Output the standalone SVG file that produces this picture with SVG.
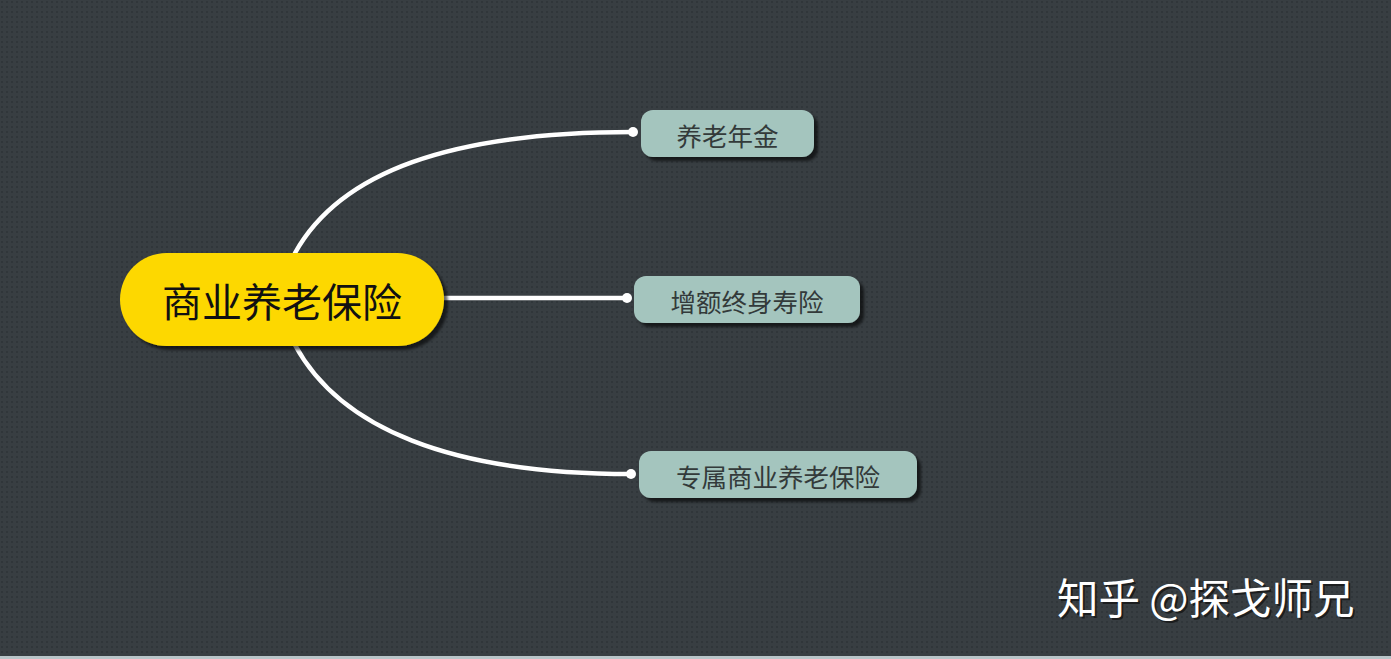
<svg xmlns="http://www.w3.org/2000/svg" width="1391" height="659" viewBox="0 0 1391 659">
<defs>
<pattern id="dots" width="5" height="5" patternUnits="userSpaceOnUse">
<rect width="5" height="5" fill="#383e42"/>
<rect x="1" y="1" width="2" height="2" fill="#30363a"/>
</pattern>
<filter id="sh" x="-10%" y="-10%" width="130%" height="140%">
<feGaussianBlur in="SourceAlpha" stdDeviation="1.5"/>
<feOffset dx="4" dy="4"/>
<feComponentTransfer><feFuncA type="linear" slope="0.6"/></feComponentTransfer>
<feMerge><feMergeNode/><feMergeNode in="SourceGraphic"/></feMerge>
</filter>
</defs>
<style>
.sub{fill:#a4c5be;filter:url(#sh)}
.subt{font-family:"Noto Sans CJK SC","Noto Sans",sans-serif;font-size:25.5px;fill:#333a3a;text-anchor:middle;dominant-baseline:central}
.conn{fill:none;stroke:#ffffff;stroke-width:4.5;stroke-linecap:round}
.dot{fill:#ffffff}
</style>
<rect width="1391" height="659" fill="url(#dots)"/>
<rect x="0" y="656" width="1391" height="3" fill="#b9c5c9"/>
<g id="connectors">
<path class="conn" d="M295,253 C340,172 450,132 633,132"/>
<circle class="dot" cx="633" cy="132" r="5"/>
<path class="conn" d="M444,298 L627,298"/>
<circle class="dot" cx="627" cy="298" r="5"/>
<path class="conn" d="M295,345 C340,428 450,474 631,474"/>
<circle class="dot" cx="631" cy="474" r="5"/>
</g>
<g id="root">
<rect x="120" y="253" width="324" height="93" rx="46.5" fill="#fdd800" filter="url(#sh)"/>
<text x="282" y="300" font-family="Noto Sans CJK SC,sans-serif" font-size="40" fill="#111111" text-anchor="middle" dominant-baseline="central">商业养老保险</text>
</g>
<g id="n1">
<rect class="sub" x="641" y="110" width="173" height="47" rx="12"/>
<text class="subt" x="727.5" y="134">养老年金</text>
</g>
<g id="n2">
<rect class="sub" x="634" y="276" width="226" height="47" rx="12"/>
<text class="subt" x="747" y="300">增额终身寿险</text>
</g>
<g id="n3">
<rect class="sub" x="639" y="451" width="278" height="47" rx="12"/>
<text class="subt" x="778" y="475">专属商业养老保险</text>
</g>
<g id="watermark">
<text x="1057" y="614" font-family="Noto Sans CJK SC,sans-serif" font-size="41.5" fill="#111" opacity="0.7" transform="translate(2,2)">知乎 @探戈师兄</text>
<text x="1057" y="614" font-family="Noto Sans CJK SC,sans-serif" font-size="41.5" fill="#ffffff">知乎 @探戈师兄</text>
</g>
</svg>
